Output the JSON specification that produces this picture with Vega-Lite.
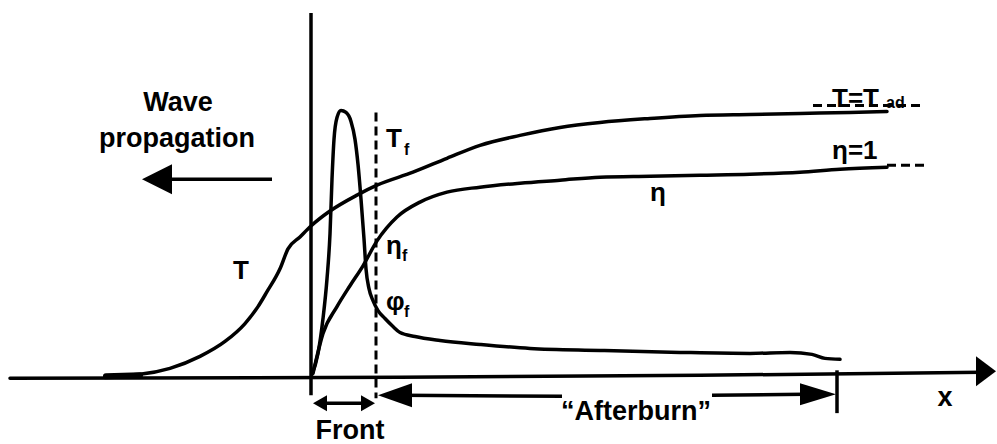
{
  "$schema": "https://vega.github.io/schema/vega-lite/v6.json",
  "width": 997,
  "height": 444,
  "autosize": {"type": "fit", "contains": "padding"},
  "padding": 0,
  "background": "white",
  "config": {"view": {"stroke": null}, "font": "Liberation Sans"},
  "datasets": {
    "curves": [
      {"series": "axis", "i": 0, "x": 10, "y": 64},
      {"series": "axis", "i": 1, "x": 400, "y": 65},
      {"series": "axis", "i": 2, "x": 700, "y": 67},
      {"series": "axis", "i": 3, "x": 982, "y": 70},

      {"series": "T", "i": 0, "x": 105, "y": 66},
      {"series": "T", "i": 1, "x": 140, "y": 68},
      {"series": "T", "i": 2, "x": 170, "y": 74},
      {"series": "T", "i": 3, "x": 200, "y": 86},
      {"series": "T", "i": 4, "x": 225, "y": 101},
      {"series": "T", "i": 5, "x": 245, "y": 119},
      {"series": "T", "i": 6, "x": 258, "y": 136},
      {"series": "T", "i": 7, "x": 267, "y": 151},
      {"series": "T", "i": 8, "x": 280, "y": 174},
      {"series": "T", "i": 9, "x": 288, "y": 194},
      {"series": "T", "i": 10, "x": 300, "y": 206},
      {"series": "T", "i": 11, "x": 311, "y": 217},
      {"series": "T", "i": 12, "x": 330, "y": 232},
      {"series": "T", "i": 13, "x": 357, "y": 248},
      {"series": "T", "i": 14, "x": 377, "y": 258},
      {"series": "T", "i": 15, "x": 413, "y": 271},
      {"series": "T", "i": 16, "x": 447, "y": 285},
      {"series": "T", "i": 17, "x": 480, "y": 298},
      {"series": "T", "i": 18, "x": 520, "y": 308},
      {"series": "T", "i": 19, "x": 560, "y": 316},
      {"series": "T", "i": 20, "x": 600, "y": 321},
      {"series": "T", "i": 21, "x": 650, "y": 325},
      {"series": "T", "i": 22, "x": 700, "y": 328},
      {"series": "T", "i": 23, "x": 750, "y": 329},
      {"series": "T", "i": 24, "x": 800, "y": 330},
      {"series": "T", "i": 25, "x": 850, "y": 331},
      {"series": "T", "i": 26, "x": 887, "y": 332},

      {"series": "eta", "i": 0, "x": 313, "y": 69},
      {"series": "eta", "i": 1, "x": 316, "y": 82},
      {"series": "eta", "i": 2, "x": 323, "y": 109},
      {"series": "eta", "i": 3, "x": 337, "y": 136},
      {"series": "eta", "i": 4, "x": 350, "y": 157},
      {"series": "eta", "i": 5, "x": 363, "y": 177},
      {"series": "eta", "i": 6, "x": 377, "y": 202},
      {"series": "eta", "i": 7, "x": 397, "y": 226},
      {"series": "eta", "i": 8, "x": 420, "y": 241},
      {"series": "eta", "i": 9, "x": 447, "y": 251},
      {"series": "eta", "i": 10, "x": 480, "y": 256},
      {"series": "eta", "i": 11, "x": 520, "y": 260},
      {"series": "eta", "i": 12, "x": 560, "y": 263},
      {"series": "eta", "i": 13, "x": 600, "y": 266},
      {"series": "eta", "i": 14, "x": 650, "y": 267},
      {"series": "eta", "i": 15, "x": 700, "y": 268},
      {"series": "eta", "i": 16, "x": 750, "y": 269},
      {"series": "eta", "i": 17, "x": 800, "y": 271},
      {"series": "eta", "i": 18, "x": 840, "y": 274},
      {"series": "eta", "i": 19, "x": 887, "y": 276},

      {"series": "phi", "i": 0, "x": 312, "y": 68},
      {"series": "phi", "i": 1, "x": 318, "y": 89},
      {"series": "phi", "i": 2, "x": 323, "y": 124},
      {"series": "phi", "i": 3, "x": 327, "y": 164},
      {"series": "phi", "i": 4, "x": 330, "y": 209},
      {"series": "phi", "i": 5, "x": 332, "y": 264},
      {"series": "phi", "i": 6, "x": 334, "y": 304},
      {"series": "phi", "i": 7, "x": 337, "y": 326},
      {"series": "phi", "i": 8, "x": 341, "y": 333},
      {"series": "phi", "i": 9, "x": 346, "y": 331},
      {"series": "phi", "i": 10, "x": 351, "y": 322},
      {"series": "phi", "i": 11, "x": 355, "y": 304},
      {"series": "phi", "i": 12, "x": 358, "y": 279},
      {"series": "phi", "i": 13, "x": 361, "y": 244},
      {"series": "phi", "i": 14, "x": 364, "y": 204},
      {"series": "phi", "i": 15, "x": 366, "y": 174},
      {"series": "phi", "i": 16, "x": 369, "y": 154},
      {"series": "phi", "i": 17, "x": 373, "y": 142},
      {"series": "phi", "i": 18, "x": 378, "y": 132},
      {"series": "phi", "i": 19, "x": 385, "y": 124},
      {"series": "phi", "i": 20, "x": 393, "y": 116},
      {"series": "phi", "i": 21, "x": 400, "y": 110},
      {"series": "phi", "i": 22, "x": 415, "y": 106},
      {"series": "phi", "i": 23, "x": 440, "y": 102},
      {"series": "phi", "i": 24, "x": 480, "y": 98},
      {"series": "phi", "i": 25, "x": 530, "y": 94},
      {"series": "phi", "i": 26, "x": 600, "y": 92},
      {"series": "phi", "i": 27, "x": 680, "y": 90},
      {"series": "phi", "i": 28, "x": 750, "y": 89},
      {"series": "phi", "i": 29, "x": 790, "y": 90},
      {"series": "phi", "i": 30, "x": 812, "y": 88},
      {"series": "phi", "i": 31, "x": 825, "y": 84},
      {"series": "phi", "i": 32, "x": 840, "y": 83}
    ],
    "thick": [
      {"name": "T foot", "x": 106, "y": 66, "x2": 140, "y2": 67}
    ],
    "segments": [
      {"name": "ordinate", "x": 311, "y": 431, "x2": 311, "y2": 47},
      {"name": "wave shaft", "x": 165, "y": 264, "x2": 272, "y2": 264},
      {"name": "front shaft", "x": 322, "y": 39, "x2": 366, "y2": 39},
      {"name": "afterburn left", "x": 400, "y": 47, "x2": 562, "y2": 46},
      {"name": "afterburn right", "x": 712, "y": 47, "x2": 805, "y2": 48},
      {"name": "afterburn end", "x": 837, "y": 72, "x2": 837, "y2": 29}
    ],
    "dashed": [
      {"name": "front edge", "x": 376, "y": 331, "x2": 376, "y2": 44},
      {"name": "eta limit", "x": 887, "y": 278, "x2": 924, "y2": 278},
      {"name": "T limit", "x": 813, "y": 338, "x2": 924, "y2": 338}
    ],
    "heads": [
      {"kind": "wave", "x": 142, "y": 264},
      {"kind": "axis", "x": 996, "y": 71},
      {"kind": "front left", "x": 313, "y": 39},
      {"kind": "front right", "x": 375, "y": 39},
      {"kind": "afterburn left", "x": 378, "y": 47},
      {"kind": "afterburn right", "x": 836, "y": 48}
    ],
    "captions": [
      {"text": "Wave", "x": 178, "y": 332},
      {"text": "propagation", "x": 177, "y": 296},
      {"text": "Front", "x": 350, "y": 3},
      {"text": "“Afterburn”", "x": 636, "y": 22},
      {"text": "x", "x": 945, "y": 36}
    ],
    "symbols": [
      {"text": "T", "x": 233, "y": 164},
      {"text": "T", "x": 386, "y": 296},
      {"text": "η", "x": 386, "y": 189},
      {"text": "φ", "x": 386, "y": 133},
      {"text": "η", "x": 650, "y": 242},
      {"text": "T=T", "x": 832, "y": 337},
      {"text": "η=1", "x": 832, "y": 284}
    ],
    "subscripts": [
      {"text": "f", "x": 404, "y": 288},
      {"text": "f", "x": 402, "y": 182},
      {"text": "f", "x": 404, "y": 126},
      {"text": "ad", "x": 886, "y": 336}
    ]
  },
  "layer": [
    {
      "data": {"name": "curves"},
      "mark": {"type": "line", "color": "black", "strokeWidth": 3.5, "interpolate": "monotone", "strokeCap": "round", "strokeJoin": "round"},
      "encoding": {
        "x": {"field": "x", "type": "quantitative", "scale": {"domain": [0, 997], "nice": false, "zero": false}, "axis": null},
        "y": {"field": "y", "type": "quantitative", "scale": {"domain": [0, 444], "nice": false, "zero": false}, "axis": null},
        "detail": {"field": "series"},
        "order": {"field": "i", "type": "quantitative"}
      }
    },
    {
      "data": {"name": "thick"},
      "mark": {"type": "rule", "color": "black", "strokeWidth": 6, "strokeCap": "round"},
      "encoding": {
        "x": {"field": "x", "type": "quantitative", "scale": {"domain": [0, 997], "nice": false, "zero": false}, "axis": null},
        "y": {"field": "y", "type": "quantitative", "scale": {"domain": [0, 444], "nice": false, "zero": false}, "axis": null},
        "x2": {"field": "x2"},
        "y2": {"field": "y2"}
      }
    },
    {
      "data": {"name": "segments"},
      "mark": {"type": "rule", "color": "black", "strokeWidth": 3.5, "strokeCap": "butt"},
      "encoding": {
        "x": {"field": "x", "type": "quantitative", "scale": {"domain": [0, 997], "nice": false, "zero": false}, "axis": null},
        "y": {"field": "y", "type": "quantitative", "scale": {"domain": [0, 444], "nice": false, "zero": false}, "axis": null},
        "x2": {"field": "x2"},
        "y2": {"field": "y2"}
      }
    },
    {
      "data": {"name": "dashed"},
      "mark": {"type": "rule", "color": "black", "strokeWidth": 3, "strokeDash": [9, 5]},
      "encoding": {
        "x": {"field": "x", "type": "quantitative", "scale": {"domain": [0, 997], "nice": false, "zero": false}, "axis": null},
        "y": {"field": "y", "type": "quantitative", "scale": {"domain": [0, 444], "nice": false, "zero": false}, "axis": null},
        "x2": {"field": "x2"},
        "y2": {"field": "y2"}
      }
    },
    {
      "data": {"name": "heads"},
      "mark": {"type": "point", "filled": true, "color": "black", "opacity": 1, "size": 4},
      "encoding": {
        "x": {"field": "x", "type": "quantitative", "scale": {"domain": [0, 997], "nice": false, "zero": false}, "axis": null},
        "y": {"field": "y", "type": "quantitative", "scale": {"domain": [0, 444], "nice": false, "zero": false}, "axis": null},
        "shape": {
          "field": "kind",
          "type": "nominal",
          "legend": null,
          "scale": {
            "domain": ["wave", "axis", "front left", "front right", "afterburn left", "afterburn right"],
            "range": [
              "M0,0L30,-15L30,15Z",
              "M0,0L-20,-15L-20,15Z",
              "M0,0L14,-8L14,8Z",
              "M0,0L-14,-8L-14,8Z",
              "M0,0L34,-12L34,12Z",
              "M0,0L-36,-11L-36,11Z"
            ]
          }
        }
      }
    },
    {
      "data": {"name": "captions"},
      "mark": {"type": "text", "font": "Liberation Sans", "fontWeight": "bold", "fontSize": 27, "align": "center", "baseline": "alphabetic", "color": "black"},
      "encoding": {
        "x": {"field": "x", "type": "quantitative", "scale": {"domain": [0, 997], "nice": false, "zero": false}, "axis": null},
        "y": {"field": "y", "type": "quantitative", "scale": {"domain": [0, 444], "nice": false, "zero": false}, "axis": null},
        "text": {"field": "text"}
      }
    },
    {
      "data": {"name": "symbols"},
      "mark": {"type": "text", "font": "Liberation Sans", "fontWeight": "bold", "fontSize": 26, "align": "left", "baseline": "alphabetic", "color": "black"},
      "encoding": {
        "x": {"field": "x", "type": "quantitative", "scale": {"domain": [0, 997], "nice": false, "zero": false}, "axis": null},
        "y": {"field": "y", "type": "quantitative", "scale": {"domain": [0, 444], "nice": false, "zero": false}, "axis": null},
        "text": {"field": "text"}
      }
    },
    {
      "data": {"name": "subscripts"},
      "mark": {"type": "text", "font": "Liberation Sans", "fontWeight": "bold", "fontSize": 16, "align": "left", "baseline": "alphabetic", "color": "black"},
      "encoding": {
        "x": {"field": "x", "type": "quantitative", "scale": {"domain": [0, 997], "nice": false, "zero": false}, "axis": null},
        "y": {"field": "y", "type": "quantitative", "scale": {"domain": [0, 444], "nice": false, "zero": false}, "axis": null},
        "text": {"field": "text"}
      }
    }
  ]
}
